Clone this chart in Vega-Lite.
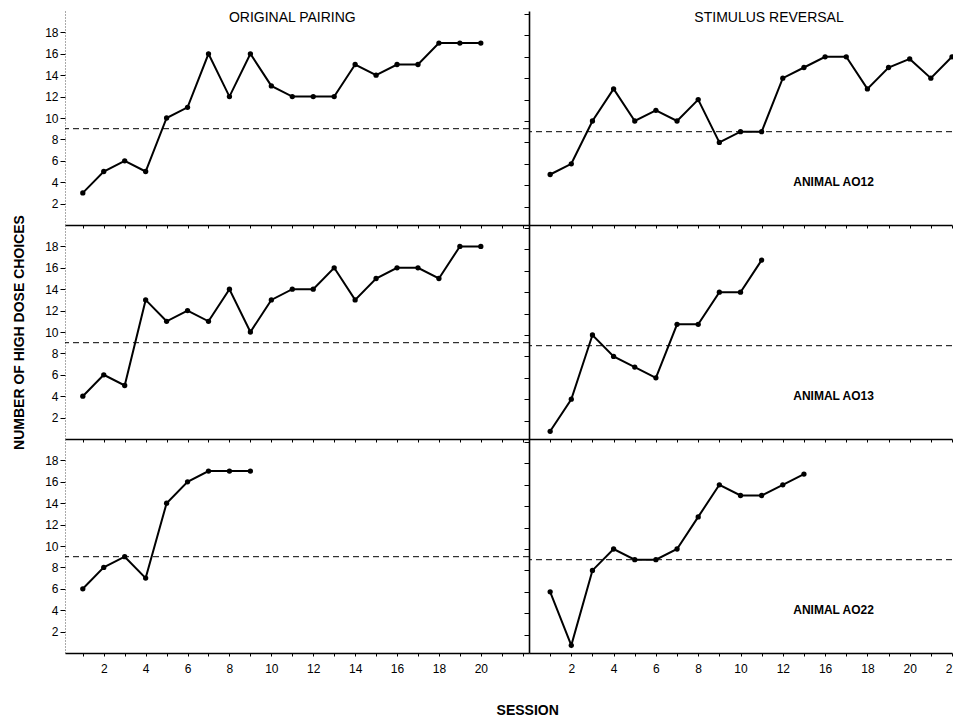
{
  "$schema": "https://vega.github.io/schema/vega-lite/v6.json",
  "background": "white",
  "padding": {"left": 12, "top": 11, "right": 0, "bottom": 0},
  "config": {
    "view": {"stroke": null},
    "font": "Liberation Sans",
    "axis": {"grid": false, "labelFont": "Liberation Sans", "labelFontSize": 12, "labelColor": "black", "tickColor": "black", "domainColor": "black", "tickSize": 5, "labelPadding": 2, "titleColor": "black", "labelOverlap": false, "labelFlush": false, "labelBound": false}
  },
  "datasets": {
    "series": [
      {"animal": "AO12", "phase": "original", "session": 1, "count": 3},
      {"animal": "AO12", "phase": "original", "session": 2, "count": 5},
      {"animal": "AO12", "phase": "original", "session": 3, "count": 6},
      {"animal": "AO12", "phase": "original", "session": 4, "count": 5},
      {"animal": "AO12", "phase": "original", "session": 5, "count": 10},
      {"animal": "AO12", "phase": "original", "session": 6, "count": 11},
      {"animal": "AO12", "phase": "original", "session": 7, "count": 16},
      {"animal": "AO12", "phase": "original", "session": 8, "count": 12},
      {"animal": "AO12", "phase": "original", "session": 9, "count": 16},
      {"animal": "AO12", "phase": "original", "session": 10, "count": 13},
      {"animal": "AO12", "phase": "original", "session": 11, "count": 12},
      {"animal": "AO12", "phase": "original", "session": 12, "count": 12},
      {"animal": "AO12", "phase": "original", "session": 13, "count": 12},
      {"animal": "AO12", "phase": "original", "session": 14, "count": 15},
      {"animal": "AO12", "phase": "original", "session": 15, "count": 14},
      {"animal": "AO12", "phase": "original", "session": 16, "count": 15},
      {"animal": "AO12", "phase": "original", "session": 17, "count": 15},
      {"animal": "AO12", "phase": "original", "session": 18, "count": 17},
      {"animal": "AO12", "phase": "original", "session": 19, "count": 17},
      {"animal": "AO12", "phase": "original", "session": 20, "count": 17},
      {"animal": "AO12", "phase": "reversal", "session": 1, "count": 5},
      {"animal": "AO12", "phase": "reversal", "session": 2, "count": 6},
      {"animal": "AO12", "phase": "reversal", "session": 3, "count": 10},
      {"animal": "AO12", "phase": "reversal", "session": 4, "count": 13},
      {"animal": "AO12", "phase": "reversal", "session": 5, "count": 10},
      {"animal": "AO12", "phase": "reversal", "session": 6, "count": 11},
      {"animal": "AO12", "phase": "reversal", "session": 7, "count": 10},
      {"animal": "AO12", "phase": "reversal", "session": 8, "count": 12},
      {"animal": "AO12", "phase": "reversal", "session": 9, "count": 8},
      {"animal": "AO12", "phase": "reversal", "session": 10, "count": 9},
      {"animal": "AO12", "phase": "reversal", "session": 11, "count": 9},
      {"animal": "AO12", "phase": "reversal", "session": 12, "count": 14},
      {"animal": "AO12", "phase": "reversal", "session": 13, "count": 15},
      {"animal": "AO12", "phase": "reversal", "session": 14, "count": 16},
      {"animal": "AO12", "phase": "reversal", "session": 15, "count": 16},
      {"animal": "AO12", "phase": "reversal", "session": 16, "count": 13},
      {"animal": "AO12", "phase": "reversal", "session": 17, "count": 15},
      {"animal": "AO12", "phase": "reversal", "session": 18, "count": 15.8},
      {"animal": "AO12", "phase": "reversal", "session": 19, "count": 14},
      {"animal": "AO12", "phase": "reversal", "session": 20, "count": 16},
      {"animal": "AO13", "phase": "original", "session": 1, "count": 4},
      {"animal": "AO13", "phase": "original", "session": 2, "count": 6},
      {"animal": "AO13", "phase": "original", "session": 3, "count": 5},
      {"animal": "AO13", "phase": "original", "session": 4, "count": 13},
      {"animal": "AO13", "phase": "original", "session": 5, "count": 11},
      {"animal": "AO13", "phase": "original", "session": 6, "count": 12},
      {"animal": "AO13", "phase": "original", "session": 7, "count": 11},
      {"animal": "AO13", "phase": "original", "session": 8, "count": 14},
      {"animal": "AO13", "phase": "original", "session": 9, "count": 10},
      {"animal": "AO13", "phase": "original", "session": 10, "count": 13},
      {"animal": "AO13", "phase": "original", "session": 11, "count": 14},
      {"animal": "AO13", "phase": "original", "session": 12, "count": 14},
      {"animal": "AO13", "phase": "original", "session": 13, "count": 16},
      {"animal": "AO13", "phase": "original", "session": 14, "count": 13},
      {"animal": "AO13", "phase": "original", "session": 15, "count": 15},
      {"animal": "AO13", "phase": "original", "session": 16, "count": 16},
      {"animal": "AO13", "phase": "original", "session": 17, "count": 16},
      {"animal": "AO13", "phase": "original", "session": 18, "count": 15},
      {"animal": "AO13", "phase": "original", "session": 19, "count": 18},
      {"animal": "AO13", "phase": "original", "session": 20, "count": 18},
      {"animal": "AO13", "phase": "reversal", "session": 1, "count": 1},
      {"animal": "AO13", "phase": "reversal", "session": 2, "count": 4},
      {"animal": "AO13", "phase": "reversal", "session": 3, "count": 10},
      {"animal": "AO13", "phase": "reversal", "session": 4, "count": 8},
      {"animal": "AO13", "phase": "reversal", "session": 5, "count": 7},
      {"animal": "AO13", "phase": "reversal", "session": 6, "count": 6},
      {"animal": "AO13", "phase": "reversal", "session": 7, "count": 11},
      {"animal": "AO13", "phase": "reversal", "session": 8, "count": 11},
      {"animal": "AO13", "phase": "reversal", "session": 9, "count": 14},
      {"animal": "AO13", "phase": "reversal", "session": 10, "count": 14},
      {"animal": "AO13", "phase": "reversal", "session": 11, "count": 17},
      {"animal": "AO22", "phase": "original", "session": 1, "count": 6},
      {"animal": "AO22", "phase": "original", "session": 2, "count": 8},
      {"animal": "AO22", "phase": "original", "session": 3, "count": 9},
      {"animal": "AO22", "phase": "original", "session": 4, "count": 7},
      {"animal": "AO22", "phase": "original", "session": 5, "count": 14},
      {"animal": "AO22", "phase": "original", "session": 6, "count": 16},
      {"animal": "AO22", "phase": "original", "session": 7, "count": 17},
      {"animal": "AO22", "phase": "original", "session": 8, "count": 17},
      {"animal": "AO22", "phase": "original", "session": 9, "count": 17},
      {"animal": "AO22", "phase": "reversal", "session": 1, "count": 6},
      {"animal": "AO22", "phase": "reversal", "session": 2, "count": 1},
      {"animal": "AO22", "phase": "reversal", "session": 3, "count": 8},
      {"animal": "AO22", "phase": "reversal", "session": 4, "count": 10},
      {"animal": "AO22", "phase": "reversal", "session": 5, "count": 9},
      {"animal": "AO22", "phase": "reversal", "session": 6, "count": 9},
      {"animal": "AO22", "phase": "reversal", "session": 7, "count": 10},
      {"animal": "AO22", "phase": "reversal", "session": 8, "count": 13},
      {"animal": "AO22", "phase": "reversal", "session": 9, "count": 16},
      {"animal": "AO22", "phase": "reversal", "session": 10, "count": 15},
      {"animal": "AO22", "phase": "reversal", "session": 11, "count": 15},
      {"animal": "AO22", "phase": "reversal", "session": 12, "count": 16},
      {"animal": "AO22", "phase": "reversal", "session": 13, "count": 17}
    ]
  },
  "title": {"text": "SESSION", "orient": "bottom", "anchor": "middle", "dx": 42, "offset": 30, "fontSize": 14, "fontWeight": "bold", "font": "Liberation Sans", "color": "black"},
  "columns": 2,
  "bounds": "flush",
  "spacing": 0,
  "concat": [
    {
      "width": 464, "height": 214,
      "layer": [
        {"data": {"name": "series"}, "transform": [{"filter": "datum.animal == 'AO12' && datum.phase == 'original'"}],
         "mark": {"type": "line", "color": "black", "strokeWidth": 2, "point": {"filled": true, "color": "black", "size": 28, "opacity": 1}},
         "encoding": {
           "x": {"field": "session", "type": "quantitative", "scale": {"domain": [0.15, 22.3], "nice": false, "zero": false},
                 "axis": {"title": null, "values": [1,2,3,4,5,6,7,8,9,10,11,12,13,14,15,16,17,18,19,20,21,22], "labels": false, "domainWidth": 1.6, "tickSize": 3}},
           "y": {"field": "count", "type": "quantitative", "scale": {"domain": [0, 20], "nice": false},
                 "axis": {"title": null, "values": [2,4,6,8,10,12,14,16,18], "labelOverlap": false, "domainDash": [1, 2], "domainColor": "#555"}}
         }},
        {"data": {"values": [{}]}, "mark": {"type": "rule", "strokeDash": [6, 4], "strokeWidth": 1, "color": "black"},
         "encoding": {"y": {"datum": 9, "type": "quantitative", "scale": {"domain": [0, 20], "nice": false},
                 "axis": {"title": null, "values": [2,4,6,8,10,12,14,16,18], "labelOverlap": false, "domainDash": [1, 2], "domainColor": "#555"}}}},
        {"data": {"values": [{}]}, "mark": {"type": "text", "fontSize": 14, "font": "Liberation Sans", "color": "black"},
         "encoding": {"x": {"datum": 11, "type": "quantitative", "scale": {"domain": [0.15, 22.3], "nice": false, "zero": false},
                 "axis": {"title": null, "values": [1,2,3,4,5,6,7,8,9,10,11,12,13,14,15,16,17,18,19,20,21,22], "labels": false, "domainWidth": 1.6, "tickSize": 3}},
                      "y": {"datum": 19.3, "type": "quantitative", "scale": {"domain": [0, 20], "nice": false},
                 "axis": {"title": null, "values": [2,4,6,8,10,12,14,16,18], "labelOverlap": false, "domainDash": [1, 2], "domainColor": "#555"}},
                      "text": {"value": "ORIGINAL PAIRING"}}}
      ]
    },
    {
      "width": 423, "height": 214,
      "layer": [
        {"data": {"name": "series"}, "transform": [{"filter": "datum.animal == 'AO12' && datum.phase == 'reversal'"}],
         "mark": {"type": "line", "color": "black", "strokeWidth": 2, "point": {"filled": true, "color": "black", "size": 28, "opacity": 1}},
         "encoding": {
           "x": {"field": "session", "type": "quantitative", "scale": {"domain": [0, 20], "nice": false, "zero": false},
                 "axis": {"title": null, "values": [1,2,3,4,5,6,7,8,9,10,11,12,13,14,15,16,17,18,19,20], "labels": false, "domainWidth": 1.6, "tickSize": 3}},
           "y": {"field": "count", "type": "quantitative", "scale": {"domain": [0.28, 20.28], "nice": false, "zero": false},
                 "axis": {"title": null, "values": [2,4,6,8,10,12,14,16,18,20], "labels": false, "domainWidth": 1.6}}
         }},
        {"data": {"values": [{}]}, "mark": {"type": "rule", "strokeDash": [6, 4], "strokeWidth": 1, "color": "black"},
         "encoding": {"y": {"datum": 9, "type": "quantitative", "scale": {"domain": [0.28, 20.28], "nice": false, "zero": false},
                 "axis": {"title": null, "values": [2,4,6,8,10,12,14,16,18,20], "labels": false, "domainWidth": 1.6}}}},
        {"data": {"values": [{}]}, "mark": {"type": "text", "fontSize": 14, "font": "Liberation Sans", "color": "black"},
         "encoding": {"x": {"datum": 11.35, "type": "quantitative", "scale": {"domain": [0, 20], "nice": false, "zero": false},
                 "axis": {"title": null, "values": [1,2,3,4,5,6,7,8,9,10,11,12,13,14,15,16,17,18,19,20], "labels": false, "domainWidth": 1.6, "tickSize": 3}},
                      "y": {"datum": 19.6, "type": "quantitative", "scale": {"domain": [0.28, 20.28], "nice": false, "zero": false},
                 "axis": {"title": null, "values": [2,4,6,8,10,12,14,16,18,20], "labels": false, "domainWidth": 1.6}},
                      "text": {"value": "STIMULUS REVERSAL"}}},
        {"data": {"values": [{}]}, "mark": {"type": "text", "fontSize": 12, "fontWeight": "bold", "font": "Liberation Sans", "color": "black"},
         "encoding": {"x": {"datum": 14.4, "type": "quantitative", "scale": {"domain": [0, 20], "nice": false, "zero": false},
                 "axis": {"title": null, "values": [1,2,3,4,5,6,7,8,9,10,11,12,13,14,15,16,17,18,19,20], "labels": false, "domainWidth": 1.6, "tickSize": 3}},
                      "y": {"datum": 4.3, "type": "quantitative", "scale": {"domain": [0.28, 20.28], "nice": false, "zero": false},
                 "axis": {"title": null, "values": [2,4,6,8,10,12,14,16,18,20], "labels": false, "domainWidth": 1.6}},
                      "text": {"value": "ANIMAL AO12"}}}
      ]
    },
    {
      "width": 464, "height": 214,
      "layer": [
        {"data": {"name": "series"}, "transform": [{"filter": "datum.animal == 'AO13' && datum.phase == 'original'"}],
         "mark": {"type": "line", "color": "black", "strokeWidth": 2, "point": {"filled": true, "color": "black", "size": 28, "opacity": 1}},
         "encoding": {
           "x": {"field": "session", "type": "quantitative", "scale": {"domain": [0.15, 22.3], "nice": false, "zero": false},
                 "axis": {"title": null, "values": [1,2,3,4,5,6,7,8,9,10,11,12,13,14,15,16,17,18,19,20,21,22], "labels": false, "domainWidth": 1.6, "tickSize": 3}},
           "y": {"field": "count", "type": "quantitative", "scale": {"domain": [0, 20], "nice": false},
                 "axis": {"title": "NUMBER OF HIGH DOSE CHOICES", "titleFontSize": 14, "titleFontWeight": "bold", "titleFont": "Liberation Sans", "titlePadding": 18, "values": [2,4,6,8,10,12,14,16,18], "labelOverlap": false, "domainDash": [1, 2], "domainColor": "#555"}}
         }},
        {"data": {"values": [{}]}, "mark": {"type": "rule", "strokeDash": [6, 4], "strokeWidth": 1, "color": "black"},
         "encoding": {"y": {"datum": 9, "type": "quantitative", "scale": {"domain": [0, 20], "nice": false},
                 "axis": {"title": "NUMBER OF HIGH DOSE CHOICES", "titleFontSize": 14, "titleFontWeight": "bold", "titleFont": "Liberation Sans", "titlePadding": 18, "values": [2,4,6,8,10,12,14,16,18], "labelOverlap": false, "domainDash": [1, 2], "domainColor": "#555"}}}}
      ]
    },
    {
      "width": 423, "height": 214,
      "layer": [
        {"data": {"name": "series"}, "transform": [{"filter": "datum.animal == 'AO13' && datum.phase == 'reversal'"}],
         "mark": {"type": "line", "color": "black", "strokeWidth": 2, "point": {"filled": true, "color": "black", "size": 28, "opacity": 1}},
         "encoding": {
           "x": {"field": "session", "type": "quantitative", "scale": {"domain": [0, 20], "nice": false, "zero": false},
                 "axis": {"title": null, "values": [1,2,3,4,5,6,7,8,9,10,11,12,13,14,15,16,17,18,19,20], "labels": false, "domainWidth": 1.6, "tickSize": 3}},
           "y": {"field": "count", "type": "quantitative", "scale": {"domain": [0.28, 20.28], "nice": false, "zero": false},
                 "axis": {"title": null, "values": [2,4,6,8,10,12,14,16,18,20], "labels": false, "domainWidth": 1.6}}
         }},
        {"data": {"values": [{}]}, "mark": {"type": "rule", "strokeDash": [6, 4], "strokeWidth": 1, "color": "black"},
         "encoding": {"y": {"datum": 9, "type": "quantitative", "scale": {"domain": [0.28, 20.28], "nice": false, "zero": false},
                 "axis": {"title": null, "values": [2,4,6,8,10,12,14,16,18,20], "labels": false, "domainWidth": 1.6}}}},
        {"data": {"values": [{}]}, "mark": {"type": "text", "fontSize": 12, "fontWeight": "bold", "font": "Liberation Sans", "color": "black"},
         "encoding": {"x": {"datum": 14.4, "type": "quantitative", "scale": {"domain": [0, 20], "nice": false, "zero": false},
                 "axis": {"title": null, "values": [1,2,3,4,5,6,7,8,9,10,11,12,13,14,15,16,17,18,19,20], "labels": false, "domainWidth": 1.6, "tickSize": 3}},
                      "y": {"datum": 4.3, "type": "quantitative", "scale": {"domain": [0.28, 20.28], "nice": false, "zero": false},
                 "axis": {"title": null, "values": [2,4,6,8,10,12,14,16,18,20], "labels": false, "domainWidth": 1.6}},
                      "text": {"value": "ANIMAL AO13"}}}
      ]
    },
    {
      "width": 464, "height": 214,
      "layer": [
        {"data": {"name": "series"}, "transform": [{"filter": "datum.animal == 'AO22' && datum.phase == 'original'"}],
         "mark": {"type": "line", "color": "black", "strokeWidth": 2, "point": {"filled": true, "color": "black", "size": 28, "opacity": 1}},
         "encoding": {
           "x": {"field": "session", "type": "quantitative", "scale": {"domain": [0.15, 22.3], "nice": false, "zero": false},
                 "axis": {"title": null, "values": [1,2,3,4,5,6,7,8,9,10,11,12,13,14,15,16,17,18,19,20,21,22], "labelExpr": "datum.value % 2 == 0 && datum.value <= 20 ? datum.label : ''", "labelOverlap": false, "domainWidth": 1.6, "tickSize": 3, "labelPadding": 7}},
           "y": {"field": "count", "type": "quantitative", "scale": {"domain": [0, 20], "nice": false},
                 "axis": {"title": null, "values": [2,4,6,8,10,12,14,16,18], "labelOverlap": false, "domainDash": [1, 2], "domainColor": "#555"}}
         }},
        {"data": {"values": [{}]}, "mark": {"type": "rule", "strokeDash": [6, 4], "strokeWidth": 1, "color": "black"},
         "encoding": {"y": {"datum": 9, "type": "quantitative", "scale": {"domain": [0, 20], "nice": false},
                 "axis": {"title": null, "values": [2,4,6,8,10,12,14,16,18], "labelOverlap": false, "domainDash": [1, 2], "domainColor": "#555"}}}}
      ]
    },
    {
      "width": 423, "height": 214,
      "layer": [
        {"data": {"name": "series"}, "transform": [{"filter": "datum.animal == 'AO22' && datum.phase == 'reversal'"}],
         "mark": {"type": "line", "color": "black", "strokeWidth": 2, "point": {"filled": true, "color": "black", "size": 28, "opacity": 1}},
         "encoding": {
           "x": {"field": "session", "type": "quantitative", "scale": {"domain": [0, 20], "nice": false, "zero": false},
                 "axis": {"title": null, "values": [1,2,3,4,5,6,7,8,9,10,11,12,13,14,15,16,17,18,19,20], "labelExpr": "datum.value % 2 == 1 ? '' : (datum.value <= 12 ? datum.label : '' + (datum.value + 2))", "labelOverlap": false, "domainWidth": 1.6, "tickSize": 3, "labelPadding": 7}},
           "y": {"field": "count", "type": "quantitative", "scale": {"domain": [0.28, 20.28], "nice": false, "zero": false},
                 "axis": {"title": null, "values": [2,4,6,8,10,12,14,16,18,20], "labels": false, "domainWidth": 1.6}}
         }},
        {"data": {"values": [{}]}, "mark": {"type": "rule", "strokeDash": [6, 4], "strokeWidth": 1, "color": "black"},
         "encoding": {"y": {"datum": 9, "type": "quantitative", "scale": {"domain": [0.28, 20.28], "nice": false, "zero": false},
                 "axis": {"title": null, "values": [2,4,6,8,10,12,14,16,18,20], "labels": false, "domainWidth": 1.6}}}},
        {"data": {"values": [{}]}, "mark": {"type": "text", "fontSize": 12, "fontWeight": "bold", "font": "Liberation Sans", "color": "black"},
         "encoding": {"x": {"datum": 14.4, "type": "quantitative", "scale": {"domain": [0, 20], "nice": false, "zero": false},
                 "axis": {"title": null, "values": [1,2,3,4,5,6,7,8,9,10,11,12,13,14,15,16,17,18,19,20], "labelExpr": "datum.value % 2 == 1 ? '' : (datum.value <= 12 ? datum.label : '' + (datum.value + 2))", "labelOverlap": false, "domainWidth": 1.6, "tickSize": 3, "labelPadding": 7}},
                      "y": {"datum": 4.3, "type": "quantitative", "scale": {"domain": [0.28, 20.28], "nice": false, "zero": false},
                 "axis": {"title": null, "values": [2,4,6,8,10,12,14,16,18,20], "labels": false, "domainWidth": 1.6}},
                      "text": {"value": "ANIMAL AO22"}}}
      ]
    }
  ]
}
